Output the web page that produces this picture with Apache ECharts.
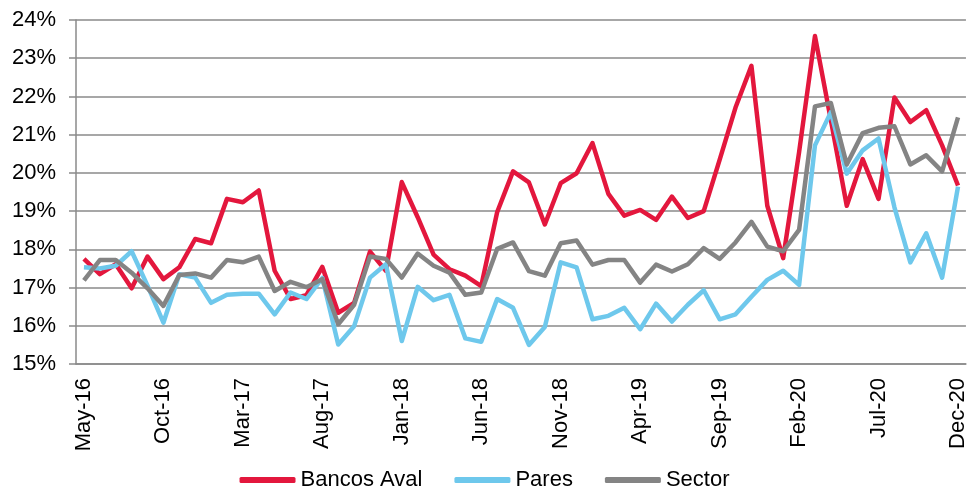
<!DOCTYPE html>
<html>
<head>
<meta charset="utf-8">
<script src="https://cdn.jsdelivr.net/npm/echarts@6/dist/echarts.min.js"></script>
<style>
  html, body { margin: 0; padding: 0; background: #fff; }
  #chart { width: 969px; height: 491px; }
</style>
</head>
<body>
<div id="chart"></div>
<script>
// monthly, May-16 .. Dec-20
const months = ['Jan', 'Feb', 'Mar', 'Apr', 'May', 'Jun', 'Jul', 'Aug', 'Sep', 'Oct', 'Nov', 'Dec'];
const categories = [];
for (let y = 2016; y <= 2020; y++) {
  for (let m = 0; m < 12; m++) {
    if (y === 2016 && m < 4) continue;
    categories.push(months[m] + '-' + String(y).slice(2));
  }
}

const bancosAval = [
  17.75, 17.35, 17.61, 16.98, 17.81, 17.22, 17.53, 18.27, 18.16, 19.32,
  19.23, 19.54, 17.44, 16.70, 16.80, 17.54, 16.34, 16.60, 17.94, 17.44,
  19.76, 18.84, 17.86, 17.48, 17.31, 17.04, 18.97, 20.04, 19.75, 18.65,
  19.73, 19.99, 20.78, 19.45, 18.88, 19.03, 18.77, 19.38, 18.82, 19.00,
  20.34, 21.71, 22.80, 19.14, 17.77, 20.54, 23.58, 21.38, 19.14, 20.36,
  19.32, 21.97, 21.33, 21.64, 20.72, 19.67
];

const pares = [
  17.53, 17.50, 17.57, 17.95, 17.05, 16.08, 17.35, 17.26, 16.60, 16.81,
  16.84, 16.84, 16.30, 16.87, 16.70, 17.25, 15.51, 15.99, 17.26, 17.61,
  15.60, 17.02, 16.67, 16.81, 15.67, 15.58, 16.70, 16.47, 15.50, 15.97,
  17.66, 17.53, 16.17, 16.26, 16.47, 15.91, 16.58, 16.11, 16.55, 16.93,
  16.17, 16.30, 16.76, 17.20, 17.44, 17.07, 20.72, 21.59, 19.98, 20.59,
  20.90, 19.10, 17.66, 18.42, 17.26, 19.64
];

const sector = [
  17.19, 17.72, 17.72, 17.39, 16.98, 16.52, 17.33, 17.37, 17.26, 17.72,
  17.66, 17.81, 16.91, 17.15, 17.01, 17.22, 16.04, 16.55, 17.81, 17.75,
  17.26, 17.89, 17.57, 17.39, 16.81, 16.87, 18.01, 18.18, 17.43, 17.31,
  18.16, 18.23, 17.60, 17.72, 17.72, 17.13, 17.60, 17.42, 17.61, 18.03,
  17.75, 18.18, 18.72, 18.07, 17.95, 18.51, 21.74, 21.83, 20.22, 21.04,
  21.18, 21.22, 20.22, 20.46, 20.04, 21.45
];

const chart = echarts.init(document.getElementById('chart'));

const axisGray = '#8a8a8a';
const font = 'Liberation Sans, Arial, sans-serif';

const lineSeries = (name, data, color) => ({
  name: name,
  type: 'line',
  data: data,
  symbol: 'none',
  color: color,
  lineStyle: { width: 4.5, color: color, join: 'round' },
  animation: false
});

chart.setOption({
  animation: false,
  grid: { left: 76, right: 3, top: 20, bottom: 127 },
  legend: {
    bottom: -5,
    left: 'center',
    icon: 'roundRect',
    itemWidth: 56,
    itemHeight: 6,
    itemGap: 32,
    textStyle: { fontFamily: font, fontSize: 22, color: '#000' },
    data: ['Bancos Aval', 'Pares', 'Sector']
  },
  xAxis: {
    type: 'category',
    data: categories,
    boundaryGap: true,
    axisLine: { lineStyle: { color: axisGray, width: 1.5 } },
    axisTick: { interval: 4, length: 6, lineStyle: { color: axisGray, width: 1.5 } },
    axisLabel: {
      interval: 4,
      rotate: 90,
      margin: 14,
      fontFamily: font,
      fontSize: 22,
      color: '#000'
    },
    splitLine: { show: false }
  },
  yAxis: {
    type: 'value',
    min: 15,
    max: 24,
    interval: 1,
    axisLine: { show: true, lineStyle: { color: axisGray, width: 1.5 } },
    axisTick: { show: true, length: 7, lineStyle: { color: axisGray, width: 1.5 } },
    axisLabel: {
      formatter: '{value}%',
      margin: 20,
      fontFamily: font,
      fontSize: 22,
      color: '#000'
    },
    splitLine: { lineStyle: { color: axisGray, width: 1.5 } }
  },
  series: [
    lineSeries('Bancos Aval', bancosAval, '#e3173d'),
    lineSeries('Pares', pares, '#6ec8ec'),
    lineSeries('Sector', sector, '#848484')
  ]
});
</script>
</body>
</html>
